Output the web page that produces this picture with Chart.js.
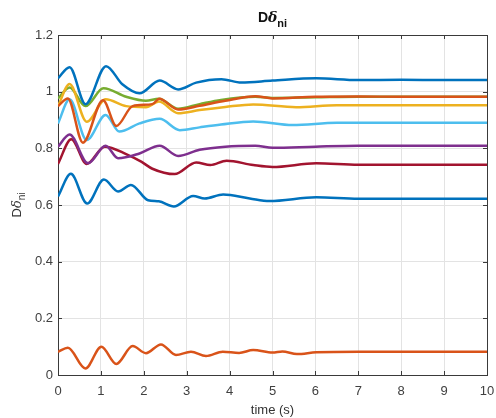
<!DOCTYPE html>
<html>
<head>
<meta charset="utf-8">
<script src="https://cdn.jsdelivr.net/npm/chart.js@4/dist/chart.umd.min.js"></script>
<style>
html,body{margin:0;padding:0;background:#fff;}
#wrap{width:496px;height:418px;position:relative;}
</style>
</head>
<body>
<div id="wrap"><canvas id="c" width="496" height="418"></canvas></div>
<script>
// ---- data ----
const xTicks = [0,1,2,3,4,5,6,7,8,9,10];
const yTicks = [0,0.2,0.4,0.6,0.8,1.0,1.2];

const t1 = [0,0.27,0.64,1.12,1.5,1.9,2.37,2.8,3.22,3.81,4.27,5.0,6.02,7,8,9,10];
const v1 = [1.047,1.086,0.956,1.09,1.026,0.994,1.039,1.008,1.032,1.044,1.032,1.039,1.047,1.041,1.042,1.041,1.041];

const t2 = [0,0.23,0.58,1.05,1.36,1.74,2.2,2.36,2.8,3.3,3.9,4.6,5.0,6,7,8,9,10];
const v2 = [0.949,0.976,0.82,0.97,0.879,0.949,0.956,0.975,0.937,0.95,0.968,0.984,0.976,0.982,0.983,0.982,0.982,0.982];

const t3 = [0,0.27,0.67,1.11,1.59,2.05,2.35,2.8,3.3,3.9,4.55,5.55,6.5,8,10];
const v3 = [0.949,1.027,0.894,0.973,0.949,0.945,0.965,0.924,0.935,0.946,0.955,0.945,0.952,0.952,0.952];

const t4 = [0,0.27,0.7,1.11,1.4,1.9,2.37,2.8,3.3,3.9,4.6,5.0,6,7,8,10];
const v4 = [0.806,0.849,0.747,0.809,0.765,0.782,0.809,0.773,0.795,0.806,0.809,0.802,0.806,0.809,0.809,0.809];

const t5 = [0,0.27,0.64,1.06,1.59,2.05,2.35,2.8,3.3,3.8,4.6,5.0,6,7,8,10];
const v5 = [0.976,1.015,0.949,1.012,0.982,0.968,0.975,0.94,0.956,0.971,0.982,0.978,0.98,0.982,0.982,0.982];

const t6 = [0,0.27,0.67,1.11,1.43,1.9,2.37,2.84,3.3,3.8,4.55,5.47,6.5,8,10];
const v6 = [0.888,0.973,0.829,0.918,0.859,0.888,0.904,0.864,0.874,0.884,0.895,0.882,0.89,0.89,0.89];

const t7 = [0,0.31,0.67,1.09,1.6,1.95,2.2,2.72,3.22,3.55,3.93,4.55,5.0,6.02,7,8,10];
const v7 = [0.745,0.832,0.745,0.806,0.779,0.752,0.728,0.709,0.75,0.741,0.756,0.741,0.734,0.747,0.742,0.742,0.742];

const t8 = [0,0.3,0.68,1.07,1.4,1.7,2.1,2.35,2.7,3.15,3.42,3.85,4.47,4.93,6.02,7,8,10];
const v8 = [0.63,0.71,0.605,0.69,0.648,0.671,0.617,0.613,0.595,0.632,0.623,0.637,0.623,0.614,0.627,0.622,0.622,0.622];

const t9 = [0,0.23,0.64,1.01,1.36,1.74,2.05,2.4,2.75,3.1,3.45,3.84,4.22,4.55,5.0,5.23,5.57,6.02,7,8,10];
const v9 = [0.082,0.096,0.023,0.1,0.039,0.102,0.077,0.108,0.071,0.082,0.067,0.082,0.078,0.088,0.079,0.083,0.074,0.08,0.082,0.082,0.082];

const seriesT = [t1,t2,t3,t4,t5,t6,t7,t8,t9];
const seriesV = [v1,v2,v3,v4,v5,v6,v7,v8,v9];
const colors = ['#0072BD','#D95319','#EDB120','#7E2F8E','#77AC30','#4DBEEE','#A2142F','#0072BD','#D95319'];

const titleText = ['D','δ','ni'];
const xLabel = 'time (s)';

// ---- chart ----
const datasets = seriesT.map((t,i)=>({
  data: t.map((x,j)=>({x:x, y:seriesV[i][j]})),
  borderColor: colors[i],
  borderWidth: 2.5,
  pointRadius: 0,
  fill: false,
  cubicInterpolationMode: 'monotone'
}));

function drawParts(ctx, x, y, parts, align){
  let w = 0;
  parts.forEach(p=>{ctx.font=p.font; w += ctx.measureText(p.text).width;});
  let cx = align==='center' ? x - w/2 : x;
  parts.forEach(p=>{
    ctx.font = p.font;
    ctx.fillText(p.text, cx, y + (p.dy||0));
    cx += ctx.measureText(p.text).width;
  });
}

const decor = {
  id:'decor',
  afterDraw(chart){
    const ctx = chart.ctx, a = chart.chartArea;
    const xs = chart.scales.x, ys = chart.scales.y;
    ctx.save();
    ctx.strokeStyle = '#3a3a3a';
    ctx.lineWidth = 1;
    ctx.beginPath();
    ctx.moveTo(a.left+0.5, a.top+0.5); ctx.lineTo(a.right+0.5, a.top+0.5); ctx.lineTo(a.right+0.5, a.bottom+0.5);
    ctx.stroke();
    ctx.beginPath();
    xTicks.forEach(v=>{
      const px = Math.round(xs.getPixelForValue(v))+0.5;
      ctx.moveTo(px, a.bottom); ctx.lineTo(px, a.bottom-4);
      ctx.moveTo(px, a.top); ctx.lineTo(px, a.top+4);
    });
    yTicks.forEach(v=>{
      const py = Math.round(ys.getPixelForValue(v))+0.5;
      ctx.moveTo(a.left, py); ctx.lineTo(a.left+4, py);
      ctx.moveTo(a.right, py); ctx.lineTo(a.right-4, py);
    });
    ctx.stroke();
    ctx.fillStyle = '#111';
    ctx.textBaseline = 'alphabetic';
    ctx.textAlign = 'left';
    drawParts(ctx, (a.left+a.right)/2, 22, [
      {text:titleText[0], font:'bold 14px "Liberation Sans", Arial, sans-serif'},
      {text:titleText[1], font:'italic bold 14px "DejaVu Serif", serif'},
      {text:titleText[2], font:'bold 11px "Liberation Sans", Arial, sans-serif', dy:5}
    ], 'center');
    ctx.fillStyle = '#333';
    drawParts(ctx, (a.left+a.right)/2, 414, [
      {text:xLabel, font:'13px "Liberation Sans", Arial, sans-serif'}
    ], 'center');
    ctx.translate(21, (a.top+a.bottom)/2);
    ctx.rotate(-Math.PI/2);
    drawParts(ctx, 0, 0, [
      {text:titleText[0], font:'13px "Liberation Sans", Arial, sans-serif'},
      {text:titleText[1], font:'italic 13px "DejaVu Serif", serif'},
      {text:titleText[2], font:'10px "Liberation Sans", Arial, sans-serif', dy:4}
    ], 'center');
    ctx.restore();
  }
};

new Chart(document.getElementById('c'), {
  type:'line',
  data:{datasets},
  options:{
    responsive:false,
    animation:false,
    events:[],
    layout:{padding:{top:35,right:9,left:0,bottom:0}},
    plugins:{legend:{display:false},title:{display:false},tooltip:{enabled:false}},
    scales:{
      x:{
        type:'linear', min:0, max:10,
        afterBuildTicks(s){ s.ticks = xTicks.map(v=>({value:v})); },
        afterFit(s){ s.height = 43; s.paddingLeft = 0; s.paddingRight = 0; },
        grid:{color:'#e3e3e3', drawTicks:false},
        border:{color:'#3a3a3a', width:1},
        ticks:{padding:9, color:'#404040', font:{family:'"Liberation Sans", Arial, sans-serif', size:13}, maxRotation:0,
          callback:v=>String(v)}
      },
      y:{
        type:'linear', min:0, max:1.2,
        afterBuildTicks(s){ s.ticks = yTicks.map(v=>({value:v})); },
        afterFit(s){ s.width = 58; s.paddingTop = 0; s.paddingBottom = 0; },
        grid:{color:'#e3e3e3', drawTicks:false},
        border:{color:'#3a3a3a', width:1},
        ticks:{padding:5, color:'#404040', font:{family:'"Liberation Sans", Arial, sans-serif', size:13},
          callback:v=>String(Number(v.toFixed(1)))}
      }
    }
  },
  plugins:[decor]
});
</script>
</body>
</html>
